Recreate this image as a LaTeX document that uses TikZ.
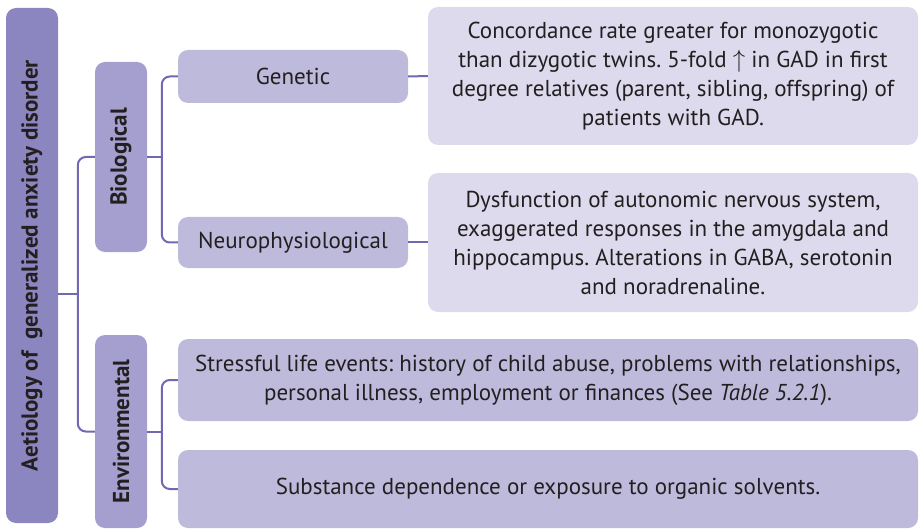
\documentclass[tikz,border=0pt]{standalone}
\usepackage{fontspec}
\setmainfont{PT Sans}
\usetikzlibrary{calc}

\definecolor{rootfill}{HTML}{8C86C0}
\definecolor{branchfill}{HTML}{A49FCE}
\definecolor{leaffill}{HTML}{BEBADB}
\definecolor{notefill}{HTML}{DCDAEC}
\definecolor{linkcol}{HTML}{7069B1}
\definecolor{textcol}{HTML}{231F20}

\begin{document}
\frenchspacing
\begin{tikzpicture}[x=1pt,y=-1pt,
    box/.style={rounded corners=10pt,inner sep=0pt,align=center,text=textcol,
                font=\fontsize{23}{29}\selectfont},
    link/.style={draw=linkcol,line width=2pt,rounded corners=8pt}]

            %\draw [help lines] (0,0) grid (920,529);
            \useasboundingbox (0,0) rectangle (920,529);

            \path   (32,265.5) node (root) [box,fill=rootfill,minimum width=52pt,minimum height=515pt]
                        {\rotatebox{90}{\bfseries Aetiology of\ \ generalized anxiety disorder}}
                    (121,157) node (bio) [box,fill=branchfill,minimum width=52pt,minimum height=190pt]
                        {\rotatebox{90}{\bfseries Biological}}
                    (121,431.5) node (env) [box,fill=branchfill,minimum width=52pt,minimum height=193pt]
                        {\rotatebox{90}{\bfseries Environmental}}
                    (293,76.5) node (gen) [box,fill=leaffill,minimum width=230pt,minimum height=53pt] {Genetic}
                    (293,242.5) node (neuro) [box,fill=leaffill,minimum width=230pt,minimum height=51pt] {Neurophysiological}
                    (673,76) node (twins) [box,fill=notefill,minimum width=490pt,minimum height=138pt]
                        {Concordance rate greater for monozygotic\\ than dizygotic twins. 5-fold $\uparrow$ in GAD in first\\
                         degree relatives (parent, sibling, offspring) of\\ patients with GAD.}
                    (673,242.5) node (ans) [box,fill=notefill,minimum width=490pt,minimum height=139pt]
                        {Dysfunction of autonomic nervous system,\\ exaggerated responses in the amygdala and\\
                         hippocampus. Alterations in GABA, serotonin\\ and noradrenaline.}
                    (548,380) node (stress) [box,fill=leaffill,minimum width=740pt,minimum height=82pt]
                        {Stressful life events: history of child abuse, problems with relationships,\\
                         personal illness, employment or finances (See \textit{Table 5.2.1}).}
                    (548,489) node (subst) [box,fill=leaffill,minimum width=740pt,minimum height=78pt]
                        {Substance dependence or exposure to organic solvents.};

            \coordinate (rj) at ($(bio.west)!0.5!(env.west)+(-17,0)$);

            \draw[link] (bio.west) -- ++(-17,0) |- (env.west);
            \draw[link] (root.east |- rj) -- (rj);
            \draw[link] (gen.west) -- ++(-16,0) |- (neuro.west);
            \draw[link] (bio.east) -- ++(15,0);
            \draw[link] (stress.west) -- ++(-16,0) |- (subst.west);
            \draw[link] (env.east) -- ++(15,0);
            \draw[link] (gen.east) -- (twins.west);
            \draw[link] (neuro.east) -- (ans.west);

        \end{tikzpicture}
\end{document}
